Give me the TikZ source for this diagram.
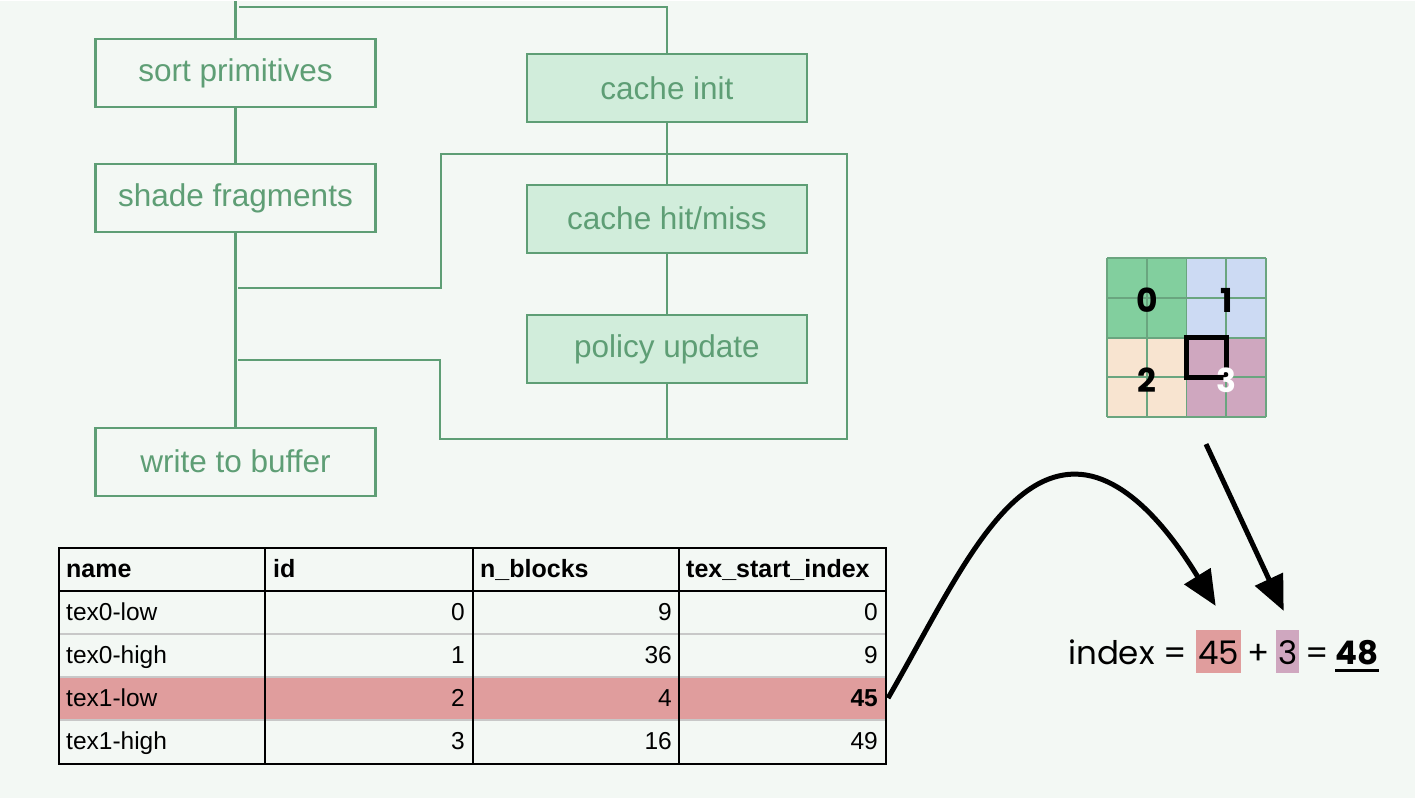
\documentclass[tikz,border=0pt]{standalone}
\usepackage{fontspec}
\setmainfont{Liberation Sans}
\newfontfamily\popfont{Poppins}
\usetikzlibrary{arrows.meta,calc}
\definecolor{bgcol}{HTML}{F3F8F4}
\definecolor{flowgreen}{HTML}{5E9E75}
\definecolor{boxfill}{HTML}{D1EDDB}
\definecolor{rowred}{HTML}{E09D9D}
\definecolor{qgreen}{HTML}{82CF9E}
\definecolor{qblue}{HTML}{CCDAF3}
\definecolor{qpeach}{HTML}{F8E4D0}
\definecolor{qmauve}{HTML}{CFA7BF}
\definecolor{gridline}{HTML}{6AA57F}
\definecolor{rowgray}{HTML}{C8C8C8}
\begin{document}
\begin{tikzpicture}[x=1pt,y=-1pt,
    flow/.style={draw=flowgreen,line width=2.2pt,text=flowgreen,minimum width=280pt,minimum height=68pt,inner sep=0pt,font=\fontsize{31.5}{36}\selectfont},
    cachebox/.style={flow,fill=boxfill},
    wire/.style={draw=flowgreen,line width=2.2pt},
    cell/.style={inner sep=0pt,font=\fontsize{24.5}{28}\selectfont,anchor=base west},
    head/.style={cell,font=\bfseries\fontsize{25}{28}\selectfont},
    num/.style={cell,anchor=base east},
    digit/.style={inner sep=0pt,font=\popfont\bfseries\fontsize{33}{36}\selectfont},
    eq/.style={inner xsep=2pt,inner ysep=8pt,text height=26pt,text depth=1pt,anchor=base west,font=\popfont\fontsize{32.5}{36}\selectfont},
    fat/.style={line width=5pt,-{Triangle[length=35pt,width=30pt]}}]
    \def\rowh{43}
    \def\cw{39.75}
    \fill[bgcol] (0,0) rectangle (1415,797);

    % pipeline
    \node[flow] (sort) at (235.5,72) {sort primitives};
    \node[flow] (shade) at (235.5,197) {shade fragments};
    \node[flow] (write) at (235.5,460.5) {write to buffer};
    \node[cachebox] (init) at (667,87) {cache init};
    \node[cachebox] (hit) at (667,217.5) {cache hit/miss};
    \node[cachebox] (policy) at (667,348) {policy update};

    \coordinate (entry) at (235.5,0);
    \coordinate (feed) at (239,6);
    \coordinate (tapA) at (238,287);
    \coordinate (tapB) at (238,359);
    \draw[wire] (entry) -- (sort);
    \draw[wire] (sort) -- (shade);
    \draw[wire] (shade) -- (write);
    \draw[wire] (feed) -| (init);
    \draw[wire] (init) -- (hit);
    \draw[wire] (hit) -- (policy);
    \draw[wire] (tapA) -| (441,153) -| (847,438) -| (440,359) -- (tapB);
    \draw[wire] (policy.south) -- (policy.south |- 0,438);

    % texture blocks
    \fill[qgreen] (1107,257) rectangle ++(2*\cw,2*\cw);
    \fill[qblue] (1107+2*\cw,257) rectangle ++(2*\cw,2*\cw);
    \fill[qpeach] (1107,257+2*\cw) rectangle ++(2*\cw,2*\cw);
    \fill[qmauve] (1107+2*\cw,257+2*\cw) rectangle ++(2*\cw,2*\cw);
    \foreach \k in {0,...,4} {
        \draw[gridline,line width=1.8pt] (1107+\k*\cw,257) -- (1107+\k*\cw,416);
        \draw[gridline,line width=1.8pt] (1107,257+\k*\cw) -- (1266,257+\k*\cw);
    }
    \node[digit] (b0) at (1147,299) {0};
    \node[digit] (b1) at (1227,299) {1};
    \node[digit] (b2) at (1147,379) {2};
    \draw[line width=5pt] (1186,336) rectangle (1226,376);
    \node[digit,text=white] (b3) at (1226,379) {3};

    % table
    \fill[rowred] (59,547+3*\rowh) rectangle (886,547+4*\rowh);
    \foreach \k in {2,3,4}
        \draw[rowgray,line width=2pt] (59,547+\k*\rowh) -- (886,547+\k*\rowh);
    \draw[line width=2pt] (59,547+\rowh) -- (886,547+\rowh);
    \foreach \xx in {265,473,679}
        \draw[line width=2pt] (\xx,547) -- (\xx,763);
    \draw[line width=2pt] (59,547) rectangle (886,763);

    \node[head] (hname) at (66,576.5) {name};
    \node[head] (hid) at (273,576.5) {id};
    \node[head] (hnb) at (480,576.5) {n\_blocks};
    \node[head] (hts) at (686,576.5) {tex\_start\_index};
    \foreach \nm/\id/\nb/\ts [count=\r] in {tex0-low/0/9/0,tex0-high/1/36/9,tex1-low/2/4/\textbf{45},tex1-high/3/16/49} {
        \node[cell] (name\r) at (66,576.5+\r*\rowh) {\nm};
        \node[num] (id\r) at (465,576.5+\r*\rowh) {\id};
        \node[num] (nb\r) at (672,576.5+\r*\rowh) {\nb};
        \node[num] (ts\r) at (878,576.5+\r*\rowh) {\ts};
    }

    % index sum
    \node[eq,inner xsep=0pt] (idx) at (1068,663) {index =};
    \node[eq,fill=rowred] (v45) at ([xshift=9pt]idx.base east) {45};
    \node[eq] (plus) at ([xshift=4pt]v45.base east) {+};
    \node[eq,fill=qmauve] (v3) at ([xshift=4pt]plus.base east) {3};
    \node[eq] (eqs) at ([xshift=4pt]v3.base east) {=};
    \node[eq,font=\popfont\bfseries\fontsize{32.5}{36}\selectfont] (res) at ([xshift=2pt]eqs.base east) {48};
    \draw[line width=3pt] ($(res.base west)+(2,6)$) -- ($(res.base east)+(-2,6)$);

    \coordinate (tabR) at (888,697);
    \coordinate (gridout) at (1206,443);
    \draw[fat] (tabR) .. controls (950,590) and (1000,473) .. (1075,473)
        .. controls (1135,473) and (1185,555) .. ($(v45.north)+(-3,-24)$);
    \draw[fat] (gridout) -- ($(v3.north)+(-4,-19)$);
\end{tikzpicture}
\end{document}
